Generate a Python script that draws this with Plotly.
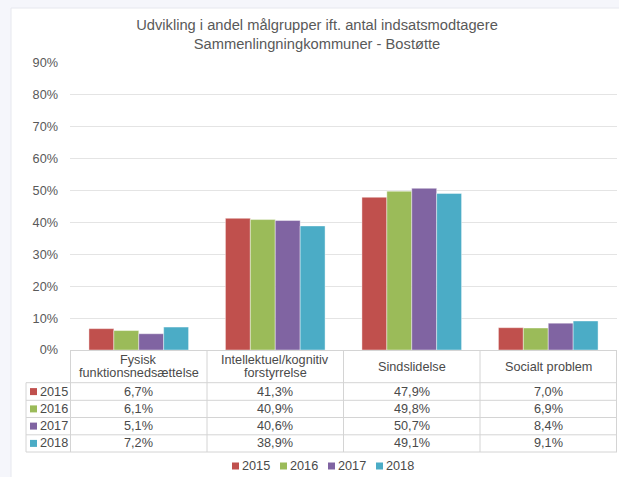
import plotly.graph_objects as go

categories = ["Fysisk funktionsnedsættelse", "Intellektuel/kognitiv forstyrrelse",
              "Sindslidelse", "Socialt problem"]
header_lines = [["Fysisk", "funktionsnedsættelse"], ["Intellektuel/kognitiv", "forstyrrelse"],
                ["Sindslidelse"], ["Socialt problem"]]
years = ["2015", "2016", "2017", "2018"]
v2015 = [6.7, 41.3, 47.9, 7.0]
v2016 = [6.1, 40.9, 49.8, 6.9]
v2017 = [5.1, 40.6, 50.7, 8.4]
v2018 = [7.2, 38.9, 49.1, 9.1]
series = [v2015, v2016, v2017, v2018]
colors = ["#c0504d", "#9bbb59", "#8064a2", "#4bacc6"]
title_text = "Udvikling i andel målgrupper ift. antal indsatsmodtagere<br>Sammenlingningkommuner - Bostøtte"

W, H = 619, 477
L, R, T, B = 70, 2, 63, 127
PW = W - L - R
PH = H - T - B
OUTER = "#f5f6fb"


def px_x(px):
    return (px - L) / PW


def px_y(py):
    return (H - B - py) / PH


FONT = "Arial, Liberation Sans, sans-serif"
FS = 12.7
TXT = "#4a4a4a"
LINE = "#d4d4d4"

fig = go.Figure()
for yr, vals, col in zip(years, series, colors):
    fig.add_trace(go.Bar(
        x=categories, y=vals, name=yr,
        marker=dict(color=col, line=dict(color="rgba(255,255,255,0.7)", width=0.6)),
        showlegend=False,
    ))

shapes = []
# white panel
shapes.append(dict(type="rect", xref="paper", yref="paper", layer="below",
                   x0=px_x(11), x1=px_x(625), y0=px_y(485), y1=px_y(8),
                   fillcolor="white", line=dict(color="#e6e8ee", width=1)))

# table lines
row_lines = [382.7, 400.3, 417.5, 434.8, 452]
for py in row_lines:
    shapes.append(dict(type="line", xref="paper", yref="paper",
                       x0=px_x(26), x1=1, y0=px_y(py), y1=px_y(py),
                       line=dict(color=LINE, width=1)))
for i in range(len(categories) + 1):
    shapes.append(dict(type="line", xref="x", yref="paper",
                       x0=i - 0.5, x1=i - 0.5, y0=0, y1=px_y(452),
                       line=dict(color=LINE, width=1)))
shapes.append(dict(type="line", xref="paper", yref="paper",
                   x0=px_x(26), x1=px_x(26), y0=px_y(382.7), y1=px_y(452),
                   line=dict(color=LINE, width=1)))

annotations = []
# header row (category labels)
for cat, lines in zip(categories, header_lines):
    if len(lines) == 2:
        ys = [360, 373.5]
    else:
        ys = [367]
    for txt, py in zip(lines, ys):
        annotations.append(dict(xref="x", yref="paper", x=cat, y=px_y(py),
                                text=txt, showarrow=False, xanchor="center", yanchor="middle",
                                font=dict(family=FONT, size=FS, color=TXT)))
# value rows
row_centers = [391.6, 408.9, 426.1, 443.4]
for yr, vals, col, py in zip(years, series, colors, row_centers):
    shapes.append(dict(type="rect", xref="paper", yref="paper",
                       x0=px_x(30), x1=px_x(37), y0=px_y(py + 3.5), y1=px_y(py - 3.5),
                       fillcolor=col, line=dict(width=0)))
    annotations.append(dict(xref="paper", yref="paper", x=px_x(37.5), y=px_y(py),
                            text=yr, showarrow=False, xanchor="left", yanchor="middle",
                            font=dict(family=FONT, size=FS, color=TXT)))
    for cat, v in zip(categories, vals):
        annotations.append(dict(xref="x", yref="paper", x=cat, y=px_y(py),
                                text=f"{v:.1f}".replace(".", ",") + "%",
                                showarrow=False, xanchor="center", yanchor="middle",
                                font=dict(family=FONT, size=FS, color=TXT)))
# legend
legend_x = [232, 280, 328, 376]
legend_y = 466
for yr, col, lx in zip(years, colors, legend_x):
    shapes.append(dict(type="rect", xref="paper", yref="paper",
                       x0=px_x(lx), x1=px_x(lx + 7), y0=px_y(legend_y + 3.5), y1=px_y(legend_y - 3.5),
                       fillcolor=col, line=dict(width=0)))
    annotations.append(dict(xref="paper", yref="paper", x=px_x(lx + 7.5), y=px_y(legend_y),
                            text=yr, showarrow=False, xanchor="left", yanchor="middle",
                            font=dict(family=FONT, size=FS, color=TXT)))

fig.update_layout(
    width=W, height=H,
    margin=dict(l=L, r=R, t=T, b=B, pad=0),
    paper_bgcolor=OUTER,
    plot_bgcolor="white",
    barmode="group",
    bargap=0.27,
    bargroupgap=0,
    title=dict(text=title_text, x=317 / W, xanchor="center", y=1 - 30 / H, yanchor="middle",
               yref="container", font=dict(family=FONT, size=14.7, color="#595959")),
    xaxis=dict(showticklabels=False, showgrid=False, showline=True, linecolor=LINE,
               linewidth=1, ticks="", fixedrange=True),
    yaxis=dict(range=[0, 90], dtick=10, ticksuffix="%", showgrid=True, gridcolor="#e4e4e4",
               gridwidth=1, zeroline=False, showline=False, ticks="", ticklabelstandoff=11,
               tickfont=dict(family=FONT, size=FS, color="#595959")),
    shapes=shapes,
    annotations=annotations,
    font=dict(family=FONT),
)

fig.write_html(
    "out.html",
    config={"displayModeBar": False},
    post_script=f"document.body.style.margin='0';document.body.style.background='{OUTER}';",
)
